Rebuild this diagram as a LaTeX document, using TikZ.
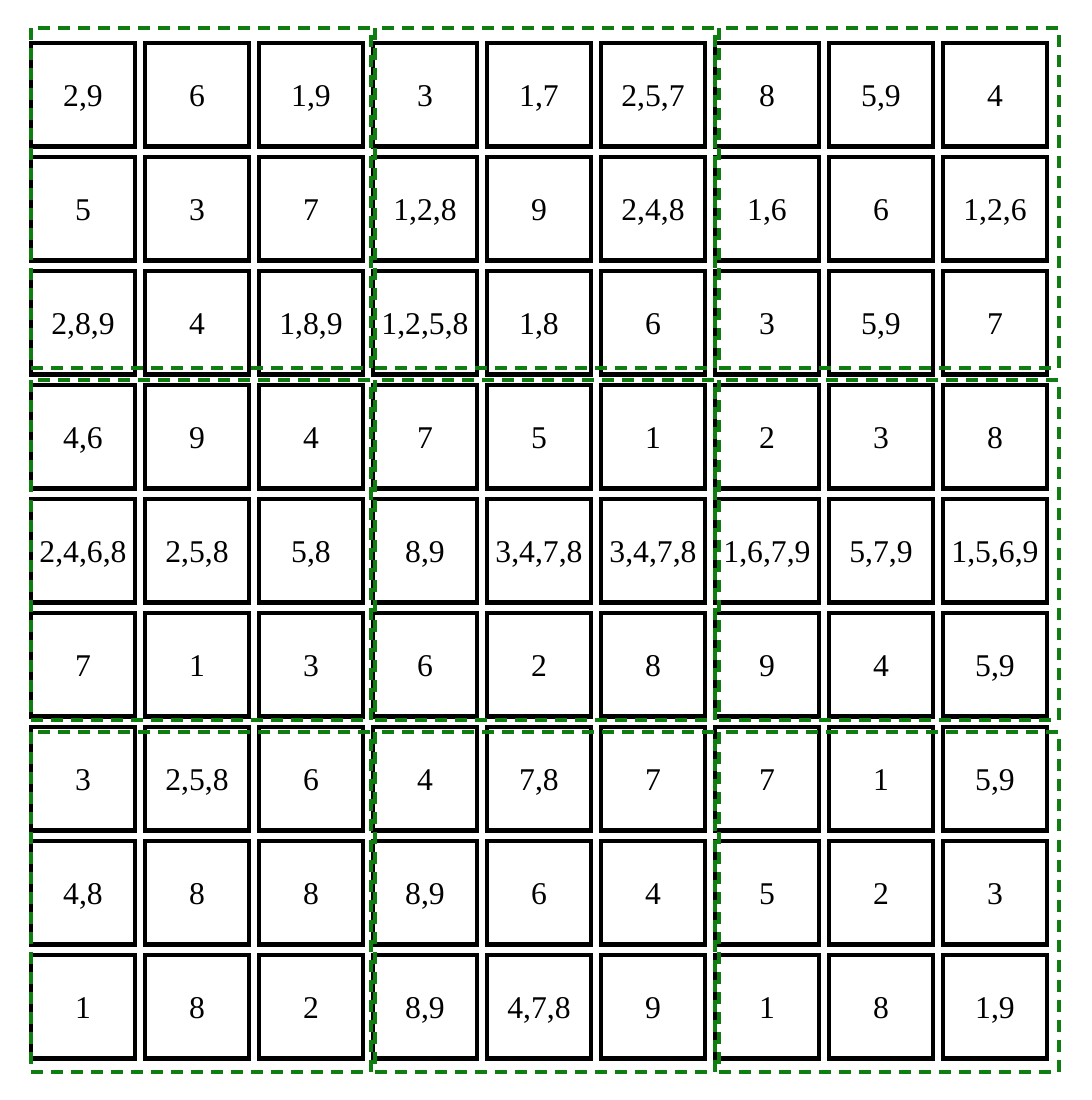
\documentclass[tikz,border=0pt]{standalone}
\usepackage{fontspec}
\setmainfont{Liberation Serif}
\usepackage{tikz}
\definecolor{blockgreen}{RGB}{16,125,16}
\tikzset{
    cell/.style={draw,line width=0.042cm,minimum width=1.04cm,minimum height=1.035cm,inner sep=0pt,
        text height=0.66em,text depth=0pt,font=\fontsize{9}{10}\selectfont},
    block/.style={draw=blockgreen,line width=0.045cm,dash pattern=on 0.12cm off 0.08cm}
}
\begin{document}
\begin{tikzpicture}[x=0.01cm,y=-0.01cm]
            \useasboundingbox (0,0) rectangle (1092,1100);
            \foreach \rowlist [count=\i] in {
                {{2,9},6,{1,9},3,{1,7},{2,5,7},8,{5,9},4},
                {5,3,7,{1,2,8},9,{2,4,8},{1,6},6,{1,2,6}},
                {{2,8,9},4,{1,8,9},{1,2,5,8},{1,8},6,3,{5,9},7},
                {{4,6},9,4,7,5,1,2,3,8},
                {{2,4,6,8},{2,5,8},{5,8},{8,9},{3,4,7,8},{3,4,7,8},{1,6,7,9},{5,7,9},{1,5,6,9}},
                {7,1,3,6,2,8,9,4,{5,9}},
                {3,{2,5,8},6,4,{7,8},7,7,1,{5,9}},
                {{4,8},8,8,{8,9},6,4,5,2,3},
                {1,8,2,{8,9},{4,7,8},9,1,8,{1,9}}}
                \foreach \t [count=\j] in \rowlist
                    \node[cell] (c\i-\j) at ({83+114*(\j-1)},{94.75+114*(\i-1)}) {\t};
            \foreach \bx in {31,375,719}
                \foreach \by in {28,380,732}
                    \draw[block] (\bx,\by) rectangle ++(340,340);
        \end{tikzpicture}
\end{document}
